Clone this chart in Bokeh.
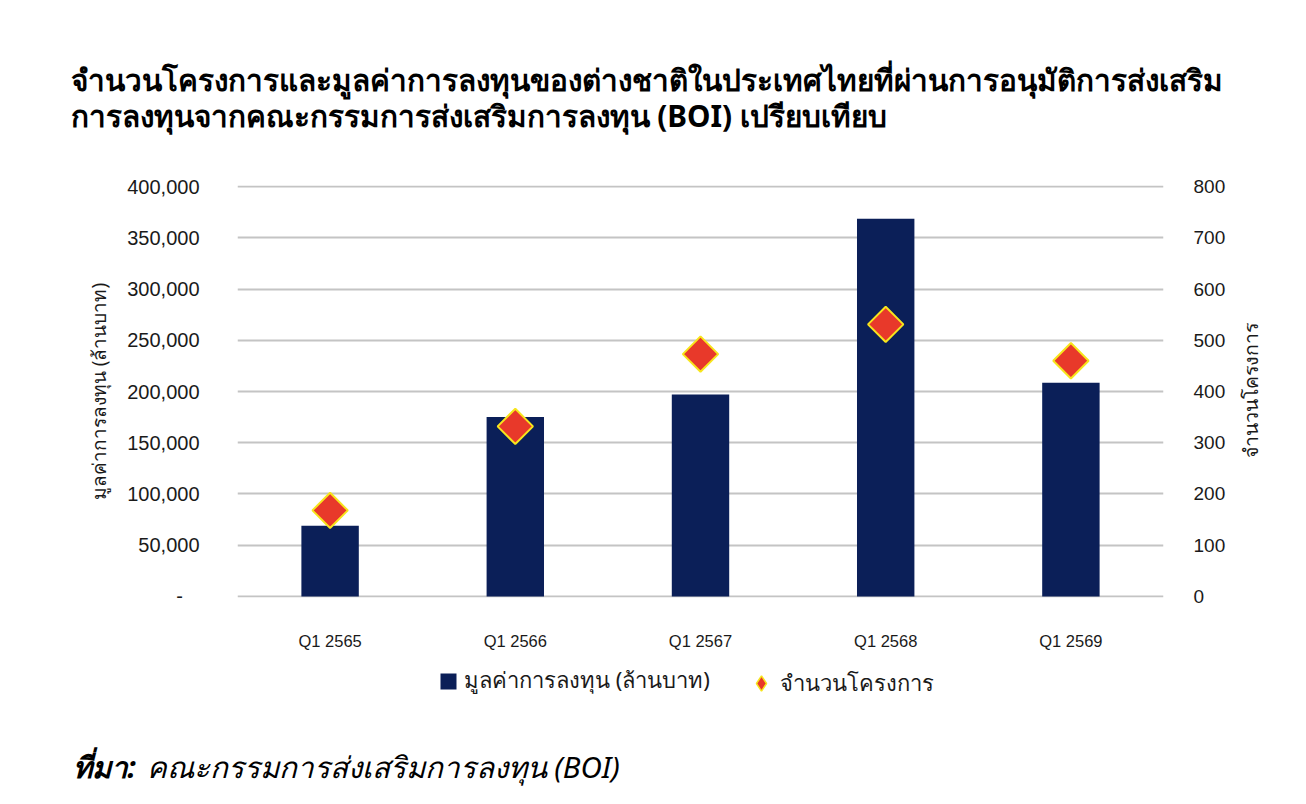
from bokeh.plotting import figure
from bokeh.layouts import column, row
from bokeh.models import (Range1d, LinearAxis, SingleIntervalTicker, CustomJSTickFormatter,
                          Label, Legend, LegendItem, ColumnDataSource, FactorRange)
from bokeh.embed import file_html
from bokeh.resources import INLINE
import math

# ---- data ----
categories = ["Q1 2565", "Q1 2566", "Q1 2567", "Q1 2568", "Q1 2569"]
investment = [69000, 175000, 197000, 368500, 208500]   # million baht (left axis)
projects = [168, 332, 473, 531, 460]                   # number of projects (right axis)

title_line1 = "จำนวนโครงการและมูลค่าการลงทุนของต่างชาติในประเทศไทยที่ผ่านการอนุมัติการส่งเสริม"
title_line2 = "การลงทุนจากคณะกรรมการส่งเสริมการลงทุน (BOI) เปรียบเทียบ"
left_label = "มูลค่าการลงทุน (ล้านบาท)"
right_label = "จำนวนโครงการ"
series_bar = "มูลค่าการลงทุน (ล้านบาท)"
series_pts = "จำนวนโครงการ"
source_head = "ที่มา:"
source_text = "คณะกรรมการส่งเสริมการลงทุน (BOI)"

# ---- style ----
NAVY = "#0b1f58"
RED = "#e8392a"
YEL = "#f7e51c"
GRID = "#c4c4c4"
TXT = "#1a1a1a"
THAI = "Noto Sans"
NUMF = "Liberation Sans"

W = 1306
W_MAIN = 1228
W_SIDE = W - W_MAIN
H_TOP, H_MAIN, H_BOT = 150, 510, 144
FL, FR = 237, 1166

src = ColumnDataSource(dict(cat=categories, inv=investment, prj=projects))


def no_align(f):
    try:
        f.frame_align = False
    except Exception:
        pass


def blank(w, h, **kw):
    f = figure(width=w, height=h, x_axis_type=None, y_axis_type=None, output_backend="svg",
               toolbar_location=None, min_border=0, **kw)
    f.title.visible = False
    f.outline_line_color = None
    f.xgrid.visible = False
    f.ygrid.visible = False
    f.background_fill_color = "white"
    f.border_fill_color = "white"
    no_align(f)
    return f


# ---------------- title block ----------------
top = blank(W, H_TOP, x_range=Range1d(0, W), y_range=Range1d(0, H_TOP))
for txt, base in [(title_line1, 79), (title_line2, 115)]:
    top.add_layout(Label(x=70, y=H_TOP - base, x_units="screen", y_units="screen", text=txt,
                         text_font=THAI, text_font_style="bold", text_font_size="29.7px",
                         text_color="black", text_baseline="alphabetic"))

# ---------------- main chart ----------------
p = figure(width=W_MAIN, height=H_MAIN, x_range=FactorRange(*categories, range_padding=0),
           y_range=Range1d(-1000, 401000), output_backend="svg", toolbar_location=None,
           min_border_left=FL, min_border_right=W_MAIN - FR, min_border_top=35,
           min_border_bottom=63)
no_align(p)
p.title.visible = False
p.outline_line_color = None
p.background_fill_color = "white"
p.border_fill_color = "white"
p.extra_y_ranges = {"right": Range1d(-2, 802)}

p.xgrid.grid_line_color = None
p.ygrid.grid_line_color = GRID
p.ygrid.grid_line_width = 2
p.ygrid.ticker = SingleIntervalTicker(interval=50000)

la = p.yaxis[0]
la.ticker = SingleIntervalTicker(interval=50000)
la.formatter = CustomJSTickFormatter(code="return tick == 0 ? '-\u00a0\u00a0\u00a0' : tick.toLocaleString('en-US');")
la.axis_line_color = None
la.major_tick_line_color = None
la.minor_tick_line_color = None
la.major_label_standoff = 32
la.major_label_text_font = NUMF
la.major_label_text_font_size = "20px"
la.major_label_text_color = TXT
la.axis_label = left_label
la.axis_label_text_font = THAI
la.axis_label_text_font_style = "normal"
la.axis_label_text_font_size = "19px"
la.axis_label_text_color = TXT
la.axis_label_standoff = 12

ra = LinearAxis(y_range_name="right", ticker=SingleIntervalTicker(interval=100))
ra.axis_line_color = None
ra.major_tick_line_color = None
ra.minor_tick_line_color = None
ra.major_label_standoff = 24
ra.major_label_text_font = NUMF
ra.major_label_text_font_size = "19px"
ra.major_label_text_color = TXT
p.add_layout(ra, "right")

xa = p.xaxis[0]
xa.axis_line_color = None
xa.major_tick_line_color = None
xa.minor_tick_line_color = None
xa.major_label_standoff = 28
xa.major_label_text_font = NUMF
xa.major_label_text_font_size = "16.5px"
xa.major_label_text_color = TXT

p.vbar(x="cat", top="inv", width=0.31, source=src, fill_color=NAVY, line_color=None)
p.scatter(x="cat", y="prj", source=src, y_range_name="right", marker="square",
          size=25, angle=math.pi / 4, fill_color=RED, line_color=YEL, line_width=2)

# right-axis title (reads bottom-to-top, centred on the axis)
side = blank(W_SIDE, H_MAIN, x_range=Range1d(0, W_SIDE), y_range=Range1d(0, H_MAIN))
side.add_layout(Label(x=1250 - W_MAIN, y=H_MAIN - (390 - H_TOP), x_units="screen",
                      y_units="screen", text=right_label, angle=math.pi / 2,
                      text_font=THAI, text_font_size="19.5px", text_color=TXT,
                      text_align="center", text_baseline="middle"))

# ---------------- legend + source block ----------------
# legend keys: same series, in a value range where the marks fall outside the view
bot = blank(W, H_BOT, x_range=FactorRange(*categories), y_range=Range1d(2e6, 3e6))
key_bar = bot.vbar(x="cat", top="inv", width=0.31, source=src,
                   fill_color=NAVY, line_color=None)
key_pts = bot.scatter(x="cat", y="prj", source=src, marker="diamond", size=25,
                      fill_color=RED, line_color=YEL, line_width=1.5)

leg1 = Legend(items=[LegendItem(label=series_bar, renderers=[key_bar])],
              location=(438, 106), border_line_color=None, background_fill_alpha=0,
              label_text_font=THAI, label_text_font_size="22px", label_text_color=TXT,
              glyph_width=20, glyph_height=20, label_standoff=6, padding=0, margin=0)
leg2 = Legend(items=[LegendItem(label=series_pts, renderers=[key_pts])],
              location=(742, 102), border_line_color=None, background_fill_alpha=0,
              label_text_font=THAI, label_text_font_size="22px", label_text_color=TXT,
              glyph_width=38, glyph_height=38, label_standoff=0, padding=0, margin=0)
bot.add_layout(leg1, "center")
bot.add_layout(leg2, "center")

bot.add_layout(Label(x=72, y=H_BOT - 106, x_units="screen", y_units="screen", text=source_head,
                     text_font=THAI, text_font_style="bold italic", text_font_size="29.5px",
                     text_color="black", text_baseline="alphabetic"))
bot.add_layout(Label(x=146, y=H_BOT - 106, x_units="screen", y_units="screen", text=source_text,
                     text_font=THAI, text_font_style="italic", text_font_size="29.5px",
                     text_color="black", text_baseline="alphabetic"))

layout = column(top, row(p, side, spacing=0), bot, spacing=0)
open("out.html", "w").write(file_html(layout, INLINE))
